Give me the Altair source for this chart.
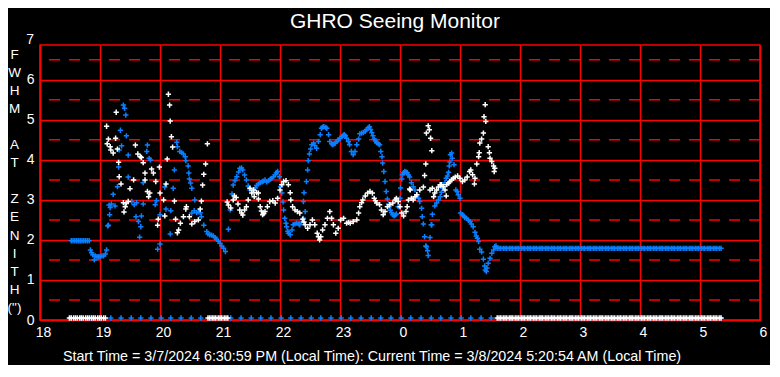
import altair as alt
import pandas as pd

# ---------------- data ----------------
TITLE = "GHRO Seeing Monitor"
FOOTER = "Start Time = 3/7/2024 6:30:59 PM (Local Time): Current Time = 3/8/2024 5:20:54 AM (Local Time)"
GAP = "\u2800"  # blank glyph so the empty rows keep their height
Y_TITLE = ["F", "W", "H", "M", GAP, "A", "T", GAP, "Z", "E", "N", "I", "T", "H", "(\")"]

X_TICKS = [18, 19, 20, 21, 22, 23, 24, 25, 26, 27, 28, 29, 30]
Y_TICKS = [0, 1, 2, 3, 4, 5, 6]
HALF_LINES = [0.5, 1.5, 2.5, 3.5, 4.5, 5.5, 6.5]

ZERO_LEVEL = 0.05
FLAT_LEVEL = 1.79

# blue series (hours since midnight of start day, FWHM)
BLUE_PTS = [
    (18.52, 1.98), (18.55, 1.98), (18.58, 1.98), (18.61, 1.98), (18.64, 1.98), (18.67, 1.98),
    (18.70, 1.98), (18.73, 1.98), (18.76, 1.98), (18.79, 1.98), (18.82, 1.98),
    (18.84, 1.75), (18.86, 1.68), (18.88, 1.63), (18.905, 1.50), (18.92, 1.60), (18.95, 1.58),
    (18.97, 1.58), (19.00, 1.58), (19.03, 1.60), (19.06, 1.60), (19.09, 1.65), (19.11, 1.75),
    (19.13, 2.35), (19.14, 2.37), (19.15, 2.87), (19.16, 2.63), (19.17, 2.81), (19.19, 2.90),
    (19.22, 3.14), (19.25, 2.85), (19.29, 3.33), (19.31, 3.82), (19.32, 4.25), (19.34, 4.74),
    (19.36, 4.35), (19.39, 5.37), (19.41, 5.29), (19.43, 5.12), (19.44, 4.60), (19.47, 4.12),
    (19.47, 3.57), (19.53, 2.96), (19.57, 2.88), (19.60, 2.58), (19.61, 2.93), (19.64, 2.46),
    (19.66, 2.07), (19.68, 2.33), (19.69, 2.60), (19.72, 3.43), (19.72, 2.90), (19.78, 4.21),
    (19.79, 4.37), (19.82, 4.04), (19.84, 4.00), (19.92, 2.88), (19.94, 2.98), (19.96, 1.77),
    (20.00, 2.63), (20.00, 1.90), (20.08, 3.32), (20.10, 2.77), (20.17, 2.15), (20.18, 2.73),
    (20.22, 3.29), (20.24, 3.75), (20.28, 4.44), (20.29, 4.33), (20.33, 4.21), (20.36, 4.18),
    (20.39, 4.15), (20.42, 4.08), (20.43, 3.98), (20.47, 3.85), (20.48, 3.67), (20.49, 3.52),
    (20.51, 3.42), (20.53, 3.29), (20.53, 2.67), (20.57, 2.73), (20.58, 3.00), (20.61, 2.68),
    (20.64, 2.70), (20.67, 2.68), (20.69, 2.58), (20.73, 2.37), (20.78, 2.21), (20.80, 2.15),
    (20.83, 2.13), (20.86, 2.12), (20.89, 2.10), (20.92, 2.06), (20.94, 2.02), (20.97, 1.97),
    (21.00, 1.92), (21.03, 1.85), (21.06, 1.79), (21.09, 1.71), (21.14, 2.27), (21.17, 2.75),
    (21.20, 3.15), (21.22, 3.37), (21.25, 3.48), (21.28, 3.58), (21.31, 3.70), (21.33, 3.79),
    (21.36, 3.80), (21.38, 3.75), (21.41, 3.62), (21.44, 3.50), (21.47, 3.35), (21.50, 3.25),
    (21.53, 3.22), (21.56, 3.20), (21.59, 3.30), (21.61, 3.36), (21.64, 3.40), (21.67, 3.43),
    (21.70, 3.45), (21.72, 3.47), (21.75, 3.50), (21.78, 3.45), (21.81, 3.48), (21.84, 3.52),
    (21.86, 3.54), (21.89, 3.58), (21.92, 3.63), (21.94, 3.68), (21.96, 3.71), (21.99, 3.58),
    (22.01, 3.33), (22.03, 3.17), (22.05, 2.95), (22.06, 2.75), (22.08, 2.54), (22.10, 2.42),
    (22.11, 2.33), (22.13, 2.22), (22.14, 2.17), (22.17, 2.13), (22.20, 2.25), (22.22, 2.38),
    (22.25, 2.40), (22.28, 2.42), (22.31, 2.40), (22.33, 2.38), (22.36, 2.45), (22.39, 2.54),
    (22.42, 2.71), (22.39, 2.96), (22.40, 3.18), (22.44, 3.46), (22.46, 3.75), (22.47, 3.98),
    (22.49, 4.15), (22.51, 4.27), (22.53, 4.38), (22.56, 4.42), (22.58, 4.36), (22.61, 4.29),
    (22.64, 4.46), (22.67, 4.63), (22.69, 4.79), (22.71, 4.82), (22.73, 4.83), (22.76, 4.81),
    (22.78, 4.79), (22.81, 4.63), (22.83, 4.46), (22.86, 4.40), (22.88, 4.38), (22.90, 4.40),
    (22.92, 4.42), (22.95, 4.46), (22.97, 4.50), (23.00, 4.54), (23.03, 4.58), (23.05, 4.61),
    (23.07, 4.63), (23.09, 4.60), (23.11, 4.54), (23.14, 4.46), (23.16, 4.38), (23.19, 4.21),
    (23.22, 4.13), (23.25, 4.21), (23.28, 4.38), (23.31, 4.52), (23.33, 4.65), (23.36, 4.67),
    (23.39, 4.68), (23.42, 4.72), (23.44, 4.75), (23.47, 4.80), (23.49, 4.83), (23.51, 4.76),
    (23.53, 4.68), (23.55, 4.60), (23.57, 4.52), (23.59, 4.47), (23.61, 4.43), (23.64, 4.40),
    (23.66, 4.38), (23.68, 4.21), (23.70, 4.08), (23.71, 3.92), (23.73, 3.71), (23.75, 3.46),
    (23.77, 3.21), (23.79, 3.02), (23.81, 2.90), (23.82, 2.83), (23.84, 2.74), (23.86, 2.68),
    (23.88, 2.63), (23.90, 2.60), (23.92, 2.62), (23.94, 2.65), (23.97, 2.83), (24.00, 3.04),
    (24.01, 3.30), (24.03, 3.52), (24.04, 3.63), (24.06, 3.68), (24.08, 3.71), (24.10, 3.70),
    (24.12, 3.68), (24.14, 3.62), (24.16, 3.57), (24.19, 3.43), (24.22, 3.33), (24.25, 3.25),
    (24.28, 3.13), (24.31, 3.04), (24.33, 2.96), (24.36, 2.79), (24.37, 2.58), (24.39, 2.40),
    (24.41, 2.08), (24.43, 1.85), (24.44, 1.83), (24.46, 1.73), (24.47, 1.61), (24.50, 2.06),
    (24.52, 2.38), (24.53, 2.38), (24.54, 2.64), (24.58, 2.85), (24.61, 2.92), (24.64, 3.00),
    (24.67, 3.08), (24.69, 3.19), (24.71, 3.29), (24.72, 3.38), (24.75, 3.43), (24.77, 3.54),
    (24.79, 3.60), (24.81, 3.69), (24.82, 3.85), (24.83, 3.95), (24.84, 4.13), (24.86, 4.17),
    (24.87, 4.04), (24.90, 3.88), (24.93, 3.25), (24.95, 3.21), (24.97, 3.13), (25.00, 3.04),
    (25.01, 2.67), (25.04, 2.63), (25.06, 2.60), (25.08, 2.56), (25.11, 2.54), (25.14, 2.49),
    (25.17, 2.46), (25.19, 2.40), (25.22, 2.33), (25.25, 2.19), (25.27, 2.10), (25.29, 2.04),
    (25.31, 1.96), (25.33, 1.77), (25.36, 1.70), (25.39, 1.52), (25.41, 1.35), (25.42, 1.25),
    (25.44, 1.21), (25.45, 1.30), (25.47, 1.42), (25.50, 1.54), (25.53, 1.67), (25.56, 1.75),
    (25.58, 1.83), (25.60, 1.85),
]

# white series
WHITE_PTS = [
    (19.11, 4.84), (19.12, 4.40), (19.14, 4.52), (19.17, 4.33), (19.18, 4.25), (19.22, 4.17),
    (19.26, 4.54), (19.27, 5.19), (19.29, 4.27), (19.31, 3.94), (19.32, 3.58), (19.35, 3.40),
    (19.39, 2.93), (19.40, 2.70), (19.42, 2.83), (19.44, 2.92), (19.47, 2.96), (19.50, 3.28),
    (19.56, 3.50), (19.59, 4.37), (19.63, 4.15), (19.67, 4.08), (19.69, 4.06), (19.72, 3.93),
    (19.75, 3.67), (19.75, 3.50), (19.79, 3.21), (19.81, 3.08), (19.83, 3.17), (19.86, 3.77),
    (19.89, 3.67), (19.93, 3.46), (19.96, 2.37), (19.97, 2.52), (19.99, 3.82), (20.00, 3.17),
    (20.06, 3.00), (20.08, 2.60), (20.10, 3.40), (20.12, 4.02), (20.14, 5.64), (20.16, 5.37),
    (20.17, 4.97), (20.19, 4.58), (20.21, 4.32), (20.24, 2.97), (20.26, 2.52), (20.29, 2.18),
    (20.31, 2.25), (20.34, 2.42), (20.39, 2.58), (20.43, 2.77), (20.44, 2.83), (20.49, 2.58),
    (20.53, 2.40), (20.58, 2.46), (20.64, 2.50), (20.67, 2.77), (20.69, 2.97), (20.71, 3.37),
    (20.73, 3.64), (20.76, 3.90), (20.79, 4.40),
    (21.12, 2.95), (21.14, 2.87), (21.18, 2.80), (21.22, 3.00), (21.24, 3.10), (21.27, 3.06),
    (21.30, 2.90), (21.33, 2.75), (21.36, 2.67), (21.38, 2.62), (21.41, 2.75), (21.44, 2.83),
    (21.47, 3.00), (21.50, 3.29), (21.53, 3.17), (21.56, 3.25), (21.57, 3.08), (21.61, 3.18),
    (21.64, 3.02), (21.64, 3.17), (21.67, 2.83), (21.69, 2.72), (21.71, 2.63), (21.73, 2.66),
    (21.75, 2.71), (21.79, 2.83), (21.83, 2.96), (21.88, 2.98), (21.92, 2.92), (21.96, 3.04),
    (22.00, 3.25), (22.03, 3.38), (22.06, 3.46), (22.10, 3.48), (22.14, 3.38), (22.17, 3.18),
    (22.18, 3.00), (22.21, 2.83), (22.25, 2.75), (22.29, 2.71), (22.33, 2.67), (22.38, 2.52),
    (22.40, 2.45), (22.42, 2.38), (22.46, 2.29), (22.50, 2.38), (22.54, 2.50), (22.58, 2.38),
    (22.62, 2.17), (22.64, 2.08), (22.66, 2.00), (22.68, 2.08), (22.71, 2.25), (22.75, 2.38),
    (22.79, 2.54), (22.83, 2.71), (22.86, 2.54), (22.89, 2.38), (22.93, 2.17), (22.97, 2.29),
    (23.01, 2.50), (23.06, 2.54), (23.11, 2.42), (23.14, 2.44), (23.17, 2.42), (23.22, 2.46),
    (23.28, 2.50), (23.31, 2.67), (23.33, 2.83), (23.36, 2.93), (23.38, 3.00), (23.42, 3.10),
    (23.46, 3.17), (23.50, 3.21), (23.54, 3.17), (23.57, 3.04), (23.59, 2.98), (23.61, 2.92),
    (23.66, 2.88), (23.69, 2.75), (23.72, 2.63), (23.75, 2.71), (23.79, 2.83), (23.83, 2.88),
    (23.88, 2.92), (23.92, 3.00), (23.94, 3.04), (23.97, 2.96), (24.00, 2.83), (24.03, 2.67),
    (24.06, 2.60), (24.10, 2.71), (24.12, 2.83), (24.14, 3.00), (24.16, 3.27), (24.17, 3.25),
    (24.19, 3.04), (24.22, 3.00), (24.25, 3.08), (24.28, 3.13), (24.33, 3.25), (24.39, 3.32),
    (24.41, 3.61), (24.43, 3.90), (24.44, 4.67), (24.47, 4.85), (24.49, 4.75), (24.51, 4.54),
    (24.53, 4.23), (24.50, 3.25), (24.54, 3.29), (24.56, 3.08), (24.58, 3.17), (24.61, 3.25),
    (24.64, 3.32), (24.67, 3.38), (24.69, 3.38), (24.72, 3.33), (24.75, 3.25), (24.77, 3.10),
    (24.78, 3.38), (24.81, 3.42), (24.83, 3.46), (24.86, 3.50), (24.89, 3.54), (24.92, 3.57),
    (24.96, 3.60), (25.00, 3.54), (25.04, 3.46), (25.08, 3.50), (25.12, 3.57), (25.16, 3.71),
    (25.18, 3.75), (25.21, 3.63), (25.24, 3.40), (25.25, 3.54), (25.28, 3.90), (25.31, 4.08),
    (25.32, 4.18), (25.33, 4.42), (25.36, 4.52), (25.39, 4.67), (25.40, 5.08), (25.42, 5.38),
    (25.43, 4.96), (25.47, 4.33), (25.49, 4.18), (25.50, 4.04), (25.53, 3.96), (25.56, 3.85),
    (25.57, 3.71), (25.58, 3.79),
]

# sample times of the long flat stretch at the end of the night (2-min cadence)
FLAT_T = [
    25.62, 25.65, 25.68, 25.72, 25.75, 25.78, 25.82, 25.85, 25.88, 25.92, 25.95, 25.98,
    26.02, 26.05, 26.08, 26.12, 26.15, 26.18, 26.22, 26.25, 26.28, 26.32, 26.35, 26.38,
    26.42, 26.45, 26.48, 26.52, 26.55, 26.58, 26.62, 26.65, 26.68, 26.72, 26.75, 26.78,
    26.82, 26.85, 26.88, 26.92, 26.95, 26.98,
    27.02, 27.05, 27.08, 27.12, 27.15, 27.18, 27.22, 27.25, 27.28, 27.32, 27.35, 27.38,
    27.42, 27.45, 27.48, 27.52, 27.55, 27.58, 27.62, 27.65, 27.68, 27.72, 27.75, 27.78,
    27.82, 27.85, 27.88, 27.92, 27.95, 27.98,
    28.02, 28.05, 28.08, 28.12, 28.15, 28.18, 28.22, 28.25, 28.28, 28.32, 28.35, 28.38,
    28.42, 28.45, 28.48, 28.52, 28.55, 28.58, 28.62, 28.65, 28.68, 28.72, 28.75, 28.78,
    28.82, 28.85, 28.88, 28.92, 28.95, 28.98,
    29.02, 29.05, 29.08, 29.12, 29.15, 29.18, 29.22, 29.25, 29.28, 29.32, 29.35,
]

# white samples lying on the zero line (no value)
WHITE_ZERO_T = [
    18.49, 18.52, 18.56, 18.59, 18.62, 18.66, 18.69, 18.72, 18.76, 18.79, 18.82, 18.86,
    18.89, 18.92, 18.96, 18.99, 19.02, 19.06, 19.09,
    20.80, 20.83, 20.87, 20.90, 20.93, 20.97, 21.00, 21.03, 21.07, 21.10, 21.13,
]

# blue samples lying on the zero line (10-min cadence)
BLUE_ZERO_T = [
    18.52, 18.68, 18.85, 19.02, 19.18, 19.35, 19.52, 19.68, 19.85, 20.02, 20.18, 20.35,
    20.52, 20.68, 20.85, 21.02, 21.18, 21.35, 21.52, 21.68, 21.85, 22.02, 22.18, 22.35,
    22.52, 22.68, 22.85, 23.02, 23.18, 23.35, 23.52, 23.68, 23.85, 24.02, 24.18, 24.35,
    24.52, 24.68, 24.85, 25.02, 25.18, 25.35, 25.52, 25.68, 25.85, 26.02, 26.18, 26.35,
    26.52, 26.68, 26.85, 27.02, 27.18, 27.35, 27.52, 27.68, 27.85, 28.02, 28.18, 28.35,
    28.52, 28.68, 28.85, 29.02, 29.18, 29.35,
]

# ---------------- tables ----------------
blue_df = pd.concat([
    pd.DataFrame({"t": BLUE_ZERO_T, "v": [ZERO_LEVEL] * len(BLUE_ZERO_T)}),
    pd.DataFrame(BLUE_PTS, columns=["t", "v"]),
    pd.DataFrame({"t": FLAT_T, "v": [FLAT_LEVEL] * len(FLAT_T)}),
], ignore_index=True)

white_zero = WHITE_ZERO_T + FLAT_T
white_df = pd.concat([
    pd.DataFrame(WHITE_PTS, columns=["t", "v"]),
    pd.DataFrame({"t": white_zero, "v": [ZERO_LEVEL] * len(white_zero)}),
], ignore_index=True)

half_df = pd.DataFrame({"v": HALF_LINES})

# ---------------- styling ----------------
RED = "#ff0000"
BLUE = "#0a80ff"
FONT = "Liberation Sans"
W, H = 720, 275
Y_MAX = 6.87
CROSS = "M-1,0H1M0,-1V1"

x_enc = alt.X(
    "t:Q",
    scale=alt.Scale(domain=[18, 30], nice=False, zero=False),
    axis=alt.Axis(
        values=X_TICKS, labelExpr="datum.value % 24", grid=True, title=None,
        labelPadding=5, labelFlush=False, labelOffset=3,
    ),
)
y_enc = alt.Y(
    "v:Q",
    scale=alt.Scale(domain=[0, Y_MAX], nice=False, zero=False),
    axis=alt.Axis(
        values=Y_TICKS, format="d", grid=True, labelPadding=6, labelFlush=False,
        title=Y_TITLE, titleAngle=0, titleAlign="center", titleBaseline="alphabetic",
        titleX=-26, titleY=13, titleLineHeight=18.1, titleFontSize=13.5,
        titleFontWeight="normal", titleColor="white", titleFont=FONT,
    ),
)

dashes = alt.Chart(half_df).mark_rule(
    color=RED, strokeWidth=1.5, strokeDash=[11, 9]
).encode(y=y_enc)

blue = alt.Chart(blue_df).mark_point(
    shape=CROSS, filled=False, size=28, strokeWidth=1.5, color=BLUE, opacity=1
).encode(x=x_enc, y=y_enc)

white = alt.Chart(white_df).mark_point(
    shape=CROSS, filled=False, size=28, strokeWidth=1.5, color="white", opacity=1
).encode(x=x_enc, y=y_enc)

seven = alt.Chart(pd.DataFrame({"lab": ["7"]})).mark_text(
    color="white", font=FONT, fontSize=14, align="right", baseline="middle"
).encode(text="lab:N", x=alt.value(-6), y=alt.value(H - 7 * H / Y_MAX))

title = alt.Chart(pd.DataFrame({"lab": [TITLE]})).mark_text(
    color="white", font=FONT, fontSize=21, align="center", baseline="alphabetic"
).encode(text="lab:N", x=alt.value(355), y=alt.value(-17))

footer = alt.Chart(pd.DataFrame({"lab": [FOOTER]})).mark_text(
    color="white", font=FONT, fontSize=14.3, align="center", baseline="alphabetic"
).encode(text="lab:N", x=alt.value(332), y=alt.value(316))

chart = alt.layer(dashes, blue, white, seven, title, footer).properties(
    width=W, height=H,
    autosize=alt.AutoSizeParams(type="none"),
    padding={"left": 32, "top": 37, "right": 10, "bottom": 45},
).configure(
    background="black",
).configure_view(
    stroke=RED, strokeWidth=1.5,
).configure_axis(
    domainColor=RED, domainWidth=1.5, gridColor=RED, gridWidth=1.5, gridOpacity=1,
    ticks=False, tickSize=0, labelColor="white", labelFont=FONT, labelFontSize=14,
    labelFlush=False,
)

chart.save("out.html", embed_options={"renderer": "svg", "actions": False})
